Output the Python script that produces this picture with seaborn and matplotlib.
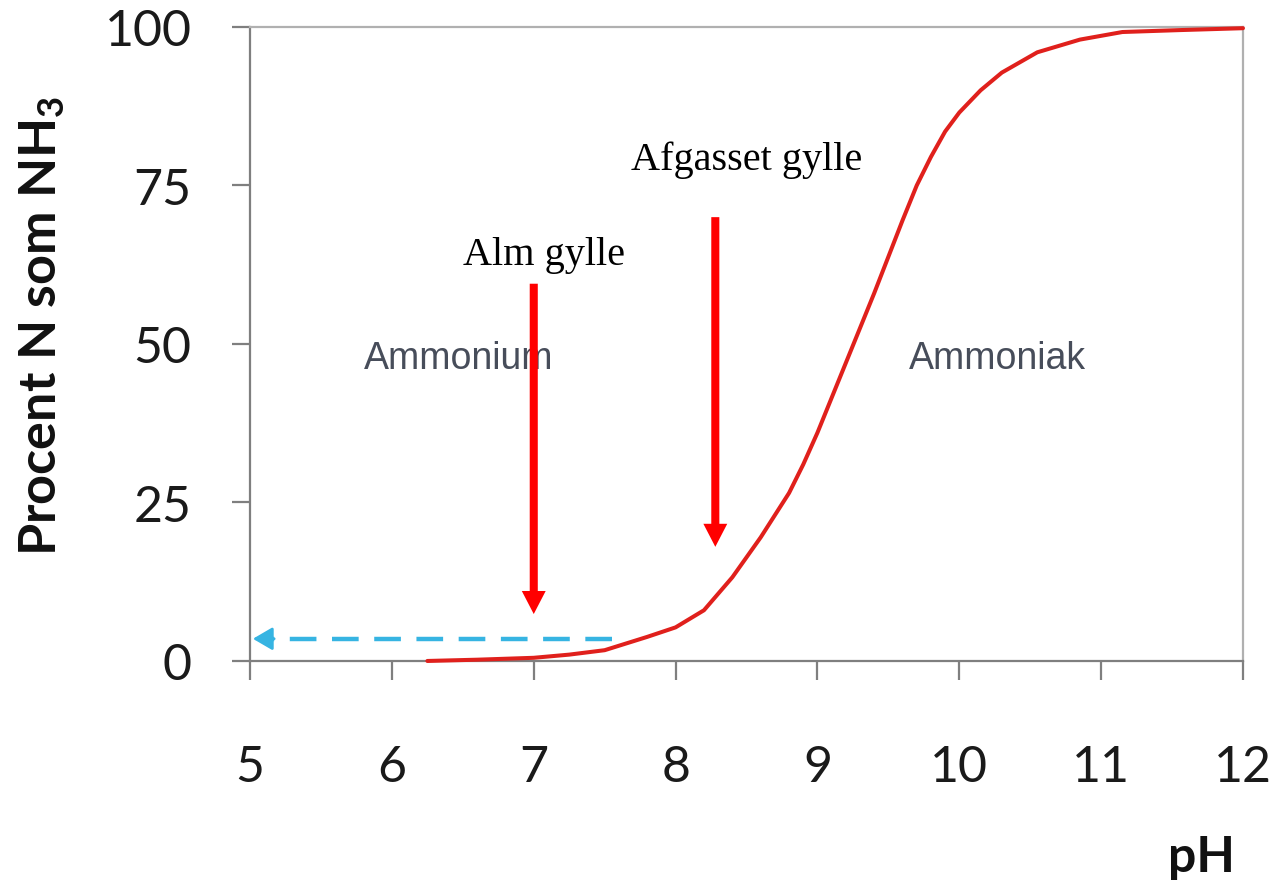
import matplotlib
matplotlib.use("Agg")
import matplotlib.pyplot as plt
import seaborn as sns
import pandas as pd

# ---- data ----
ph = [6.25, 6.6, 7.0, 7.25, 7.5, 7.8, 8.0, 8.2, 8.4, 8.6, 8.8, 8.9, 9.0, 9.2,
      9.4, 9.6, 9.7, 9.8, 9.9, 10.0, 10.15, 10.3, 10.55, 10.85, 11.15, 11.55, 12.0]
pct_nh3 = [0.0, 0.2, 0.5, 1.0, 1.7, 3.8, 5.3, 8.0, 13.2, 19.5, 26.5, 31.0, 36.0,
           47.0, 58.0, 69.5, 75.0, 79.5, 83.5, 86.5, 90.0, 92.8, 96.0, 98.0,
           99.2, 99.5, 99.8]
x_ticks = [5, 6, 7, 8, 9, 10, 11, 12]
y_ticks = [0, 25, 50, 75, 100]

arrow_labels = ["Alm gylle", "Afgasset gylle"]
arrow_x = [7.0, 8.28]
arrow_top = [59.5, 70.0]
arrow_tip = [7.4, 18.0]
label_x = [7.07, 8.50]
label_y = [62.6, 77.6]

region_labels = ["Ammonium", "Ammoniak"]
region_x = [6.47, 10.27]
region_y = [47.8, 47.8]

dash_start = 7.55
dash_end = 5.02
dash_level = 3.5

df = pd.DataFrame({"pH": ph, "pct": pct_nh3})

sns.set_style("white")
plt.rcParams["font.family"] = ["Lato", "DejaVu Sans"]
plt.rcParams["mathtext.fontset"] = "custom"
plt.rcParams["mathtext.rm"] = "Lato"
plt.rcParams["mathtext.bf"] = "Lato:bold"

fig = plt.figure(figsize=(12.85, 8.87), dpi=100)
ax = fig.add_axes([0.1946, 0.2537, 0.7727, 0.7148])

sns.lineplot(data=df, x="pH", y="pct", ax=ax, color="#e0201c", lw=2.9,
             clip_on=False, zorder=5)

ax.set_xlim(5, 12)
ax.set_ylim(0, 100)
ax.set_xticks(x_ticks)
ax.set_yticks(y_ticks)
ax.tick_params(axis="both", labelsize=36, colors="#7f7f7f", labelcolor="#1a1a1a",
               width=1.6)
ax.tick_params(axis="y", length=13, pad=29, direction="out", left=True)
ax.tick_params(axis="x", length=14, pad=46, direction="out", bottom=True)

for side in ["left", "bottom"]:
    ax.spines[side].set_color("#7f7f7f")
    ax.spines[side].set_linewidth(1.6)
for side in ["top", "right"]:
    ax.spines[side].set_color("#b0b0b0")
    ax.spines[side].set_linewidth(1.6)

ax.set_ylabel(r"Procent N som NH$_\mathbf{3}$", fontsize=37.5, fontweight="bold",
              color="#111111")
ax.yaxis.set_label_coords(-0.184, 0.53)
ax.set_xlabel("pH", fontsize=36, fontweight="bold", color="#111111")
ax.xaxis.set_label_coords(0.992, -0.273)
ax.xaxis.label.set_ha("right")

# red arrows with labels
for lab, xa, yt, yb, lx, ly in zip(arrow_labels, arrow_x, arrow_top, arrow_tip,
                                   label_x, label_y):
    ax.annotate("", xy=(xa, yb), xytext=(xa, yt),
                arrowprops=dict(arrowstyle="simple,tail_width=0.29,head_width=0.86,head_length=0.83",
                                mutation_scale=20, color="#ff0000", lw=0,
                                shrinkA=0, shrinkB=0), zorder=6)
    ax.text(lx, ly, lab, fontsize=29, family="Liberation Serif", ha="center",
            va="baseline", color="#000000", zorder=7)

# region labels
for lab, rx, ry in zip(region_labels, region_x, region_y):
    ax.text(rx, ry, lab, fontsize=27, family="Liberation Sans", ha="center",
            va="center", color="#474d5a", zorder=4)

# blue dashed arrow
ax.plot([dash_start, dash_end + 0.1], [dash_level, dash_level], color="#36b4e2",
        lw=3.2, ls=(0, (6, 3.5)), zorder=4)
ax.annotate("", xy=(dash_end, dash_level), xytext=(dash_end + 0.15, dash_level),
            arrowprops=dict(arrowstyle="-|>,head_width=0.35,head_length=0.6",
                            mutation_scale=20, color="#36b4e2", lw=2,
                            shrinkA=0, shrinkB=0), zorder=4)

fig.savefig("out.png", dpi=100)
